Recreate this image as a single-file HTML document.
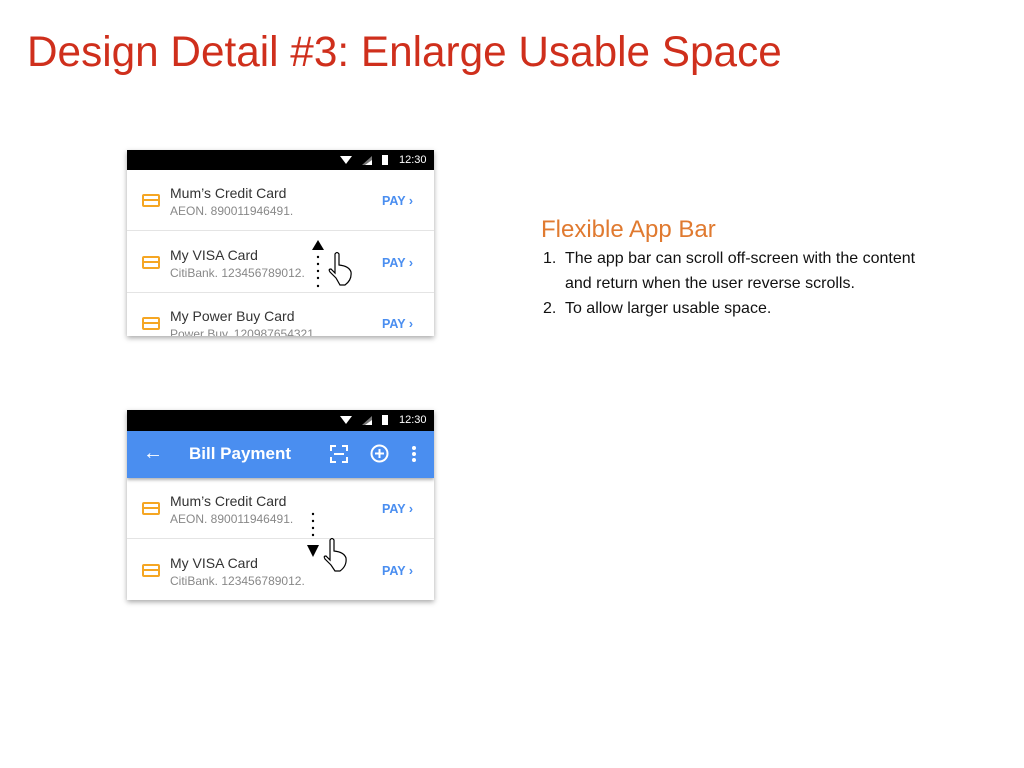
<!DOCTYPE html>
<html><head><meta charset="utf-8"><style>
body{margin:0;width:1024px;height:768px;background:#fff;position:relative;overflow:hidden;font-family:"Liberation Sans",sans-serif}
.a{position:absolute}
.title{left:27px;top:28px;font-size:42.3px;color:#cf2f1c;white-space:nowrap}
.phone{position:absolute;left:127px;width:307px;background:#fff;box-shadow:0 2px 5px rgba(0,0,0,.35);overflow:hidden}
.sb{height:20px;background:#000;position:relative;color:#fff;font-size:11px}
.row{position:absolute;left:0;width:307px;height:60px;border-bottom:1.5px solid #e4e4e4;background:#fff}
.ic{position:absolute;left:15px;width:18px;height:13px;border:2px solid #f5a623;border-radius:2px;box-sizing:border-box}
.ic:after{content:"";position:absolute;left:0;right:0;top:3px;height:2px;background:#f5a623}
.t{position:absolute;left:43px;font-size:14px;color:#333;white-space:nowrap}
.s{position:absolute;left:43px;font-size:12px;color:#888;white-space:nowrap}
.p{position:absolute;left:255px;font-size:12.5px;color:#4a8ef0;white-space:nowrap;font-weight:bold}
</style></head><body>
<div class="a title">Design Detail #3: Enlarge Usable Space</div>

<div class="phone" style="top:150px;height:186px">
 <div class="sb"><svg class="a" style="left:213px;top:5px" width="62" height="11"><polygon points="0,1 12,1 6,9" fill="#fff"/><polygon points="22,10 32,10 32,1" fill="#777"/><polygon points="25,10 32,10 32,5" fill="#fff"/><rect x="42" y="0" width="6" height="10" fill="#fff"/></svg><span class="a" style="left:272px;top:4px">12:30</span></div>
 <div class="row" style="top:20px"><div class="ic" style="top:24px"></div><div class="t" style="top:15px">Mum’s Credit Card</div><div class="s" style="top:34px">AEON. 890011946491.</div><div class="p" style="top:24px">PAY ›</div></div>
 <div class="row" style="top:82px"><div class="ic" style="top:24px"></div><div class="t" style="top:15px">My VISA Card</div><div class="s" style="top:34px">CitiBank. 123456789012.</div><div class="p" style="top:24px">PAY ›</div></div>
 <div class="row" style="top:143px"><div class="ic" style="top:24px"></div><div class="t" style="top:15px">My Power Buy Card</div><div class="s" style="top:34px">Power Buy. 120987654321.</div><div class="p" style="top:24px">PAY ›</div></div>
 <svg class="a" style="left:180px;top:90px" width="50" height="52"><polygon points="11,0 5,10 17,10" fill="#000"/><g fill="#000"><circle cx="11" cy="17" r="1.2"/><circle cx="11" cy="24" r="1.2"/><circle cx="11" cy="31" r="1.2"/><circle cx="11" cy="38" r="1.2"/><circle cx="11" cy="46" r="1.2"/></g><path d="M29 38 L23 32 Q21 29 24 29 L28 33 L28 14 Q30 11 32 14 L32 25 Q42 26 44 32 Q45 40 38 45 L33 45 Z" fill="#fff" stroke="#000" stroke-width="1.2"/></svg>
</div>

<div class="phone" style="top:410px;height:190px">
 <div class="sb" style="height:21px"><svg class="a" style="left:213px;top:5px" width="62" height="11"><polygon points="0,1 12,1 6,9" fill="#fff"/><polygon points="22,10 32,10 32,1" fill="#777"/><polygon points="25,10 32,10 32,5" fill="#fff"/><rect x="42" y="0" width="6" height="10" fill="#fff"/></svg><span class="a" style="left:272px;top:4px">12:30</span></div>
 <div class="a" style="left:0;top:21px;width:307px;height:47px;background:#4a8ef0;box-shadow:0 2px 3px rgba(0,0,0,.3);z-index:2;color:#fff">
  <span class="a" style="left:16px;top:11px;font-size:20px">←</span>
  <span class="a" style="left:62px;top:13px;font-size:17px;font-weight:bold">Bill Payment</span>
  <svg class="a" style="left:203px;top:14px" width="18" height="18" fill="none" stroke="#fff" stroke-width="2"><path d="M1 6V1H6M12 1H17V6M17 12V17H12M6 17H1V12M4 9H14"/></svg>
  <svg class="a" style="left:243px;top:13px" width="19" height="19" fill="none" stroke="#fff" stroke-width="2"><circle cx="9.5" cy="9.5" r="8"/><path d="M9.5 5V14M5 9.5H14"/></svg>
  <svg class="a" style="left:284px;top:14px" width="6" height="18" fill="#fff"><circle cx="3" cy="3" r="2"/><circle cx="3" cy="9" r="2"/><circle cx="3" cy="15" r="2"/></svg>
 </div>
 <div class="row" style="top:68px"><div class="ic" style="top:24px"></div><div class="t" style="top:15px">Mum’s Credit Card</div><div class="s" style="top:34px">AEON. 890011946491.</div><div class="p" style="top:24px">PAY ›</div></div>
 <div class="row" style="top:130px"><div class="ic" style="top:24px"></div><div class="t" style="top:15px">My VISA Card</div><div class="s" style="top:34px">CitiBank. 123456789012.</div><div class="p" style="top:24px">PAY ›</div></div>
 <svg class="a" style="left:180px;top:100px;z-index:3" width="50" height="66"><g fill="#000"><circle cx="6" cy="4" r="1.2"/><circle cx="6" cy="11" r="1.2"/><circle cx="6" cy="18" r="1.2"/><circle cx="6" cy="25" r="1.2"/></g><polygon points="0,35 12,35 6,47" fill="#000"/><path d="M24 55 L18 49 Q16 46 19 46 L23 50 L23 30 Q25 27 27 30 L27 41 Q37 42 39 48 Q40 56 33 61 L28 61 Z" fill="#fff" stroke="#000" stroke-width="1.2"/></svg>
</div>

<div class="a" style="left:541px;top:216px;font-size:24px;color:#e07a30;white-space:nowrap">Flexible App Bar</div>
<div class="a" style="left:543px;top:246px;font-size:16px;color:#111;line-height:25px;white-space:nowrap">
<div>1.&nbsp; The app bar can scroll off-screen with the content</div>
<div style="padding-left:22px">and return when the user reverse scrolls.</div>
<div>2.&nbsp; To allow larger usable space.</div>
</div>
</body></html>
